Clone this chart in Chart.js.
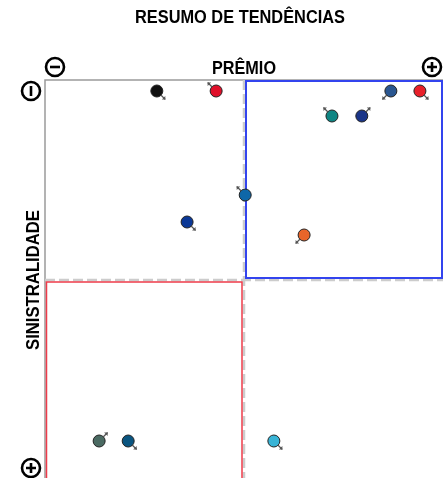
<!DOCTYPE html>
<html><head><meta charset="utf-8">
<script src="https://cdn.jsdelivr.net/npm/chart.js@4"></script>
<style>html,body{margin:0;padding:0;overflow:hidden;background:#fff}canvas{display:block}</style>
</head><body><canvas id="c" width="444" height="478" style="width:444px;height:478px"></canvas>
<script>
const titleText = "RESUMO DE TENDÊNCIAS";
const xAxisLabel = "PRÊMIO";
const yAxisLabel = "SINISTRALIDADE";
const premio = [28.1, 43.0, 86.9, 94.2, 72.1, 79.6, 50.3, 35.7, 65.1, 13.6, 20.9, 57.5];
const sinistralidade = [2.75, 2.75, 2.75, 2.75, 9, 9, 28.75, 35.5, 38.75, 90.25, 90.25, 90.25];
const pointColors = ["#111111", "#e0102a", "#2a5690", "#e8202a", "#0f8583", "#1a3588", "#0e67a8", "#0b3896", "#e8652a", "#4a6a62", "#0a5580", "#38b4d6"];
const trends = ["se", "nw", "sw", "se", "nw", "ne", "nw", "se", "sw", "ne", "se", "se"];
const midX = 50, midY = 50;

const dirs = {ne:[1,-1], nw:[-1,-1], se:[1,1], sw:[-1,1]};

const decor = {
  id: 'decor',
  beforeDatasetsDraw(chart) {
    const {ctx, chartArea: a, scales: {x, y}} = chart;
    ctx.save();
    ctx.strokeStyle = '#9a9a9a'; ctx.lineWidth = 1.5;
    ctx.beginPath(); ctx.moveTo(a.left, a.bottom); ctx.lineTo(a.left, a.top); ctx.lineTo(a.right, a.top); ctx.stroke();
    const mx = x.getPixelForValue(midX), my = y.getPixelForValue(midY);
    ctx.strokeStyle = '#cccccc'; ctx.lineWidth = 2.5; ctx.setLineDash([10, 4]);
    ctx.beginPath(); ctx.moveTo(mx, a.top); ctx.lineTo(mx, a.bottom); ctx.stroke();
    ctx.beginPath(); ctx.moveTo(a.left, my); ctx.lineTo(a.right, my); ctx.stroke();
    ctx.setLineDash([]);
    ctx.strokeStyle = '#3344ee'; ctx.lineWidth = 2;
    ctx.strokeRect(mx + 2, a.top + 1, a.right - mx - 3, my - a.top - 3);
    ctx.strokeStyle = '#ee3b4a'; ctx.lineWidth = 1.5;
    ctx.strokeRect(a.left + 1.5, my + 2, mx - a.left - 3.5, a.bottom - my + 5);
    ctx.restore();
  },
  afterDatasetsDraw(chart) {
    const {ctx, scales: {x, y}} = chart;
    ctx.save();
    ctx.strokeStyle = '#555'; ctx.fillStyle = '#555'; ctx.lineWidth = 1.2;
    premio.forEach((v, i) => {
      const px = x.getPixelForValue(v), py = y.getPixelForValue(sinistralidade[i]);
      const [dx, dy] = dirs[trends[i]];
      const sx = px + dx * 4, sy = py + dy * 4, ex = px + dx * 8.5, ey = py + dy * 8.5;
      ctx.beginPath(); ctx.moveTo(sx, sy); ctx.lineTo(ex, ey); ctx.stroke();
      ctx.beginPath();
      ctx.moveTo(ex, ey); ctx.lineTo(ex - dx * 3.5, ey); ctx.lineTo(ex, ey - dy * 3.5); ctx.closePath(); ctx.fill();
    });
    ctx.restore();
  },
  afterDraw(chart) {
    const {ctx} = chart;
    ctx.save();
    ctx.fillStyle = '#000';
    ctx.textAlign = 'center'; ctx.textBaseline = 'middle';
    ctx.font = 'bold 19px "Liberation Sans Narrow", "Arial Narrow", "Liberation Sans", sans-serif';
    ctx.fillText(titleText, 240, 18, 210);
    ctx.font = 'bold 18px "Liberation Sans Narrow", "Arial Narrow", "Liberation Sans", sans-serif';
    ctx.fillText(xAxisLabel, 244, 69, 64);
    ctx.save(); ctx.translate(34, 280); ctx.rotate(-Math.PI / 2);
    ctx.fillText(yAxisLabel, 0, 0, 140); ctx.restore();
    const icon = (cx, cy, type) => {
      ctx.strokeStyle = '#000'; ctx.lineWidth = 2.6;
      ctx.beginPath(); ctx.arc(cx, cy, 9, 0, Math.PI * 2); ctx.stroke();
      ctx.beginPath();
      if (type === 'h' || type === 'plus') { ctx.moveTo(cx - 5, cy); ctx.lineTo(cx + 5, cy); }
      if (type === 'v' || type === 'plus') { ctx.moveTo(cx, cy - 5); ctx.lineTo(cx, cy + 5); }
      ctx.stroke();
    };
    icon(55, 67, 'h');
    icon(432, 67, 'plus');
    icon(31, 91, 'v');
    icon(31, 468, 'plus');
    ctx.restore();
  }
};

new Chart(document.getElementById('c'), {
  type: 'scatter',
  data: {
    datasets: [{
      data: premio.map((v, i) => ({x: v, y: sinistralidade[i]})),
      backgroundColor: pointColors,
      borderColor: '#222',
      borderWidth: 1,
      pointRadius: 6,
      pointHoverRadius: 6
    }]
  },
  options: {
    responsive: false, animation: false, devicePixelRatio: 1,
    layout: {autoPadding: false, padding: {left: 45, right: 1, top: 80, bottom: 0}},
    plugins: {legend: {display: false}, tooltip: {enabled: false}, title: {display: false}},
    scales: {
      x: {type: 'linear', min: 0, max: 100, display: false},
      y: {type: 'linear', min: 0, max: 99.5, reverse: true, display: false}
    }
  },
  plugins: [decor]
});
</script></body></html>
